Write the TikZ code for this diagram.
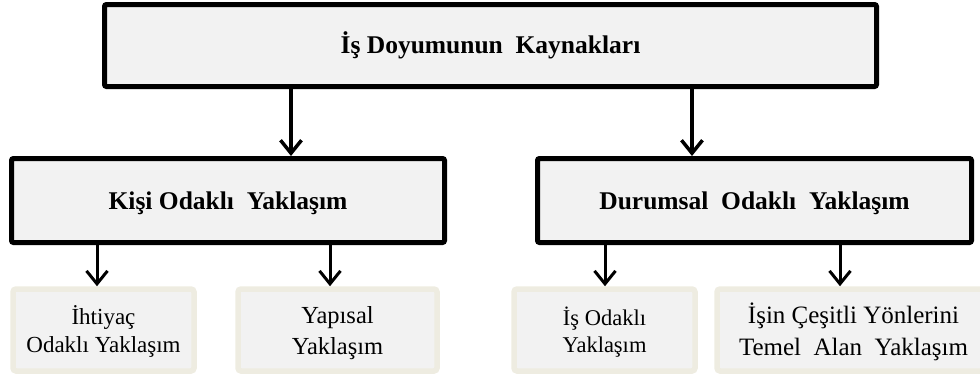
\documentclass[tikz,border=0pt]{standalone}
\usepackage{fontspec}
\setmainfont{Liberation Serif}
\usetikzlibrary{arrows.meta}
\definecolor{boxfill}{HTML}{F2F2F2}
\definecolor{leafline}{HTML}{EEECE1}
% set a block of centred lines, shifted by #1 without changing its size
\newcommand{\droptext}[2]{\raisebox{#1}[\height][\depth]{\begin{tabular}{@{}c@{}}#2\end{tabular}}}
\begin{document}
\begin{tikzpicture}[x=1pt,y=-1pt,
  mainbox/.style={draw=black, line width=5pt, fill=boxfill, rounded corners=2pt,
    inner sep=0pt, font=\fontsize{25.5}{30}\selectfont\bfseries},
  leafbox/.style={draw=leafline, line width=5.5pt, fill=boxfill, rounded corners=3pt,
    inner sep=0pt, minimum height=82pt},
  arr/.style={line width=#1, -{Straight Barb[length=13pt,width=21pt]}},
  arr/.default=3pt]
\useasboundingbox (0,0) rectangle (980,383);
\clip (0,0) rectangle (980,383);

% top level
\node[mainbox, minimum width=772pt, minimum height=82pt] (root) at (490.5,45.5)
  {\droptext{-2pt}{İş Doyumunun\ \ Kaynakları}};

% second level
\node[mainbox, minimum width=433pt, minimum height=84pt] (kisi) at (228,200.5)
  {\droptext{-3pt}{Kişi Odaklı\ \ Yaklaşım}};
\node[mainbox, minimum width=434pt, minimum height=84pt] (durum) at (754.5,200.5)
  {\droptext{-3pt}{Durumsal\ \ Odaklı\ \ Yaklaşım}};

% leaves
\node[leafbox, minimum width=181pt, font=\fontsize{23}{28}\selectfont] (ihtiyac) at (103.5,330)
  {\droptext{-3pt}{İhtiyaç\\Odaklı Yaklaşım}};
\node[leafbox, minimum width=199pt, font=\fontsize{24.5}{31}\selectfont] (yapisal) at (337.5,330)
  {\droptext{-3pt}{Yapısal\\Yaklaşım}};
\node[leafbox, minimum width=181pt, font=\fontsize{22.5}{27}\selectfont] (isodakli) at (604.5,330)
  {\droptext{-4pt}{İş Odaklı\\Yaklaşım}};
\node[leafbox, minimum width=273pt, font=\fontsize{25}{32}\selectfont] (yonler) at (853.5,330)
  {\droptext{-3pt}{İşin Çeşitli Yönlerini\\Temel\ \ Alan\ \ Yaklaşım}};

% connectors
\draw[arr=3.5pt] (root.south -| 291,0) -- (kisi.north -| 291,0);
\draw[arr=3.5pt] (root.south -| 692,0) -- (durum.north -| 692,0);
\draw[arr] (kisi.south -| 97,0) -- (ihtiyac.north -| 97,0);
\draw[arr] (kisi.south -| 330,0) -- (yapisal.north -| 330,0);
\draw[arr] (durum.south -| 605,0) -- (isodakli.north -| 605,0);
\draw[arr] (durum.south -| 840,0) -- (yonler.north -| 840,0);
\end{tikzpicture}
\end{document}
